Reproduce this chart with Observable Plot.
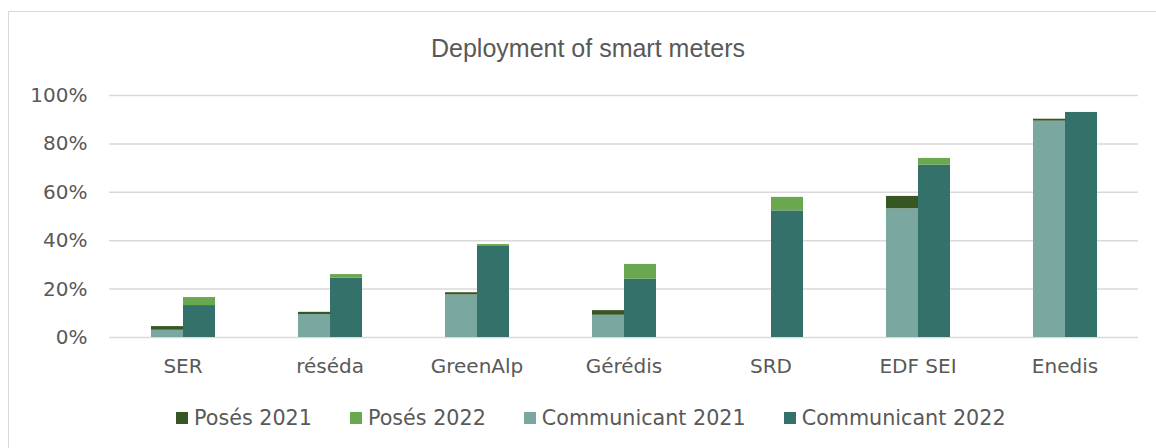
<!DOCTYPE html>
<html>
<head>
<meta charset="utf-8">
<script src="https://cdn.jsdelivr.net/npm/d3@7"></script>
<script src="https://cdn.jsdelivr.net/npm/@observablehq/plot@0.6"></script>
<style>
  html, body { margin: 0; padding: 0; background: #fff; }
  body { width: 1156px; height: 448px; position: relative; overflow: hidden; font-family: "DejaVu Sans", sans-serif; color: #595959; }
  #frame { position: absolute; left: 8px; top: 11px; width: 1170px; height: 460px; border: 1.5px solid #d9d9d9; box-sizing: border-box; }
  #title { position: absolute; left: 588px; top: 36px; transform: translateX(-50%); white-space: nowrap; font-family: "Liberation Sans", sans-serif; font-size: 25px; line-height: 1; color: #595959; }
  #chart { position: absolute; left: 0; top: 70px; }
  #legend { position: absolute; left: 176px; top: 408px; display: flex; align-items: center; gap: 38px; font-size: 20.7px; line-height: 1; white-space: nowrap; }
  .item { display: flex; align-items: center; }
  .sw { width: 12px; height: 12px; margin-right: 6px; }
</style>
</head>
<body>
<div id="frame"></div>
<div id="title">Deployment of smart meters</div>
<div id="chart"></div>
<div id="legend"></div>
<script>
const categories = ["SER", "réséda", "GreenAlp", "Gérédis", "SRD", "EDF SEI", "Enedis"];
const years = ["2021", "2022"];
// stacked segment values (% of meters)
const communicant2021 = [3.0, 9.5, 17.6, 9.2, 0, 53.2, 89.4];
const poses2021 = [1.5, 0.9, 0.9, 1.9, 0, 5.1, 0.8];
const communicant2022 = [13.2, 24.5, 37.6, 24.1, 52.3, 71.2, 93.0];
const poses2022 = [3.3, 1.5, 0.8, 6.1, 5.6, 2.8, 0];
const seriesNames = ["Posés 2021", "Posés 2022", "Communicant 2021", "Communicant 2022"];
const seriesColors = ["#375623", "#6aa84f", "#7aa7a0", "#33716a"];
const yTicks = [0, 20, 40, 60, 80, 100];

const rows = [];
categories.forEach((c, i) => {
  rows.push({cat: c, year: "2021", series: "Communicant 2021", value: communicant2021[i]});
  rows.push({cat: c, year: "2021", series: "Posés 2021", value: poses2021[i]});
  rows.push({cat: c, year: "2022", series: "Communicant 2022", value: communicant2022[i]});
  rows.push({cat: c, year: "2022", series: "Posés 2022", value: poses2022[i]});
});

const chart = Plot.plot({
  width: 1156,
  height: 320,
  marginTop: 25,
  marginBottom: 53,
  marginLeft: 106,
  marginRight: 15.3,
  style: {fontFamily: "DejaVu Sans", color: "#595959", background: "transparent", overflow: "visible"},
  fx: {domain: categories, padding: 0, axis: null},
  x: {domain: years, paddingInner: 0, paddingOuter: 1.24, axis: null},
  y: {domain: [0, 100], axis: null},
  color: {domain: seriesNames, range: seriesColors},
  marks: [
    Plot.gridY(yTicks, {stroke: "#d9d9d9", strokeOpacity: 1, strokeWidth: 1.5}),
    Plot.barY(rows, {
      fx: "cat", x: "year", y: "value", fill: "series",
      order: ["Communicant 2021", "Communicant 2022", "Posés 2021", "Posés 2022"],
      inset: 0
    }),
    Plot.axisY(yTicks, {tickSize: 0, tickPadding: 22, tickFormat: d => d + "%", label: null, fontSize: 20}),
    Plot.axisFx({anchor: "bottom", tickSize: 0, tickPadding: 21, label: null, fontSize: 20})
  ]
});
document.getElementById("chart").appendChild(chart);

const legend = document.getElementById("legend");
seriesNames.forEach((name, i) => {
  const item = document.createElement("div");
  item.className = "item";
  const sw = document.createElement("span");
  sw.className = "sw";
  sw.style.background = seriesColors[i];
  const t = document.createElement("span");
  t.textContent = name;
  item.appendChild(sw);
  item.appendChild(t);
  legend.appendChild(item);
});
</script>
</body>
</html>
